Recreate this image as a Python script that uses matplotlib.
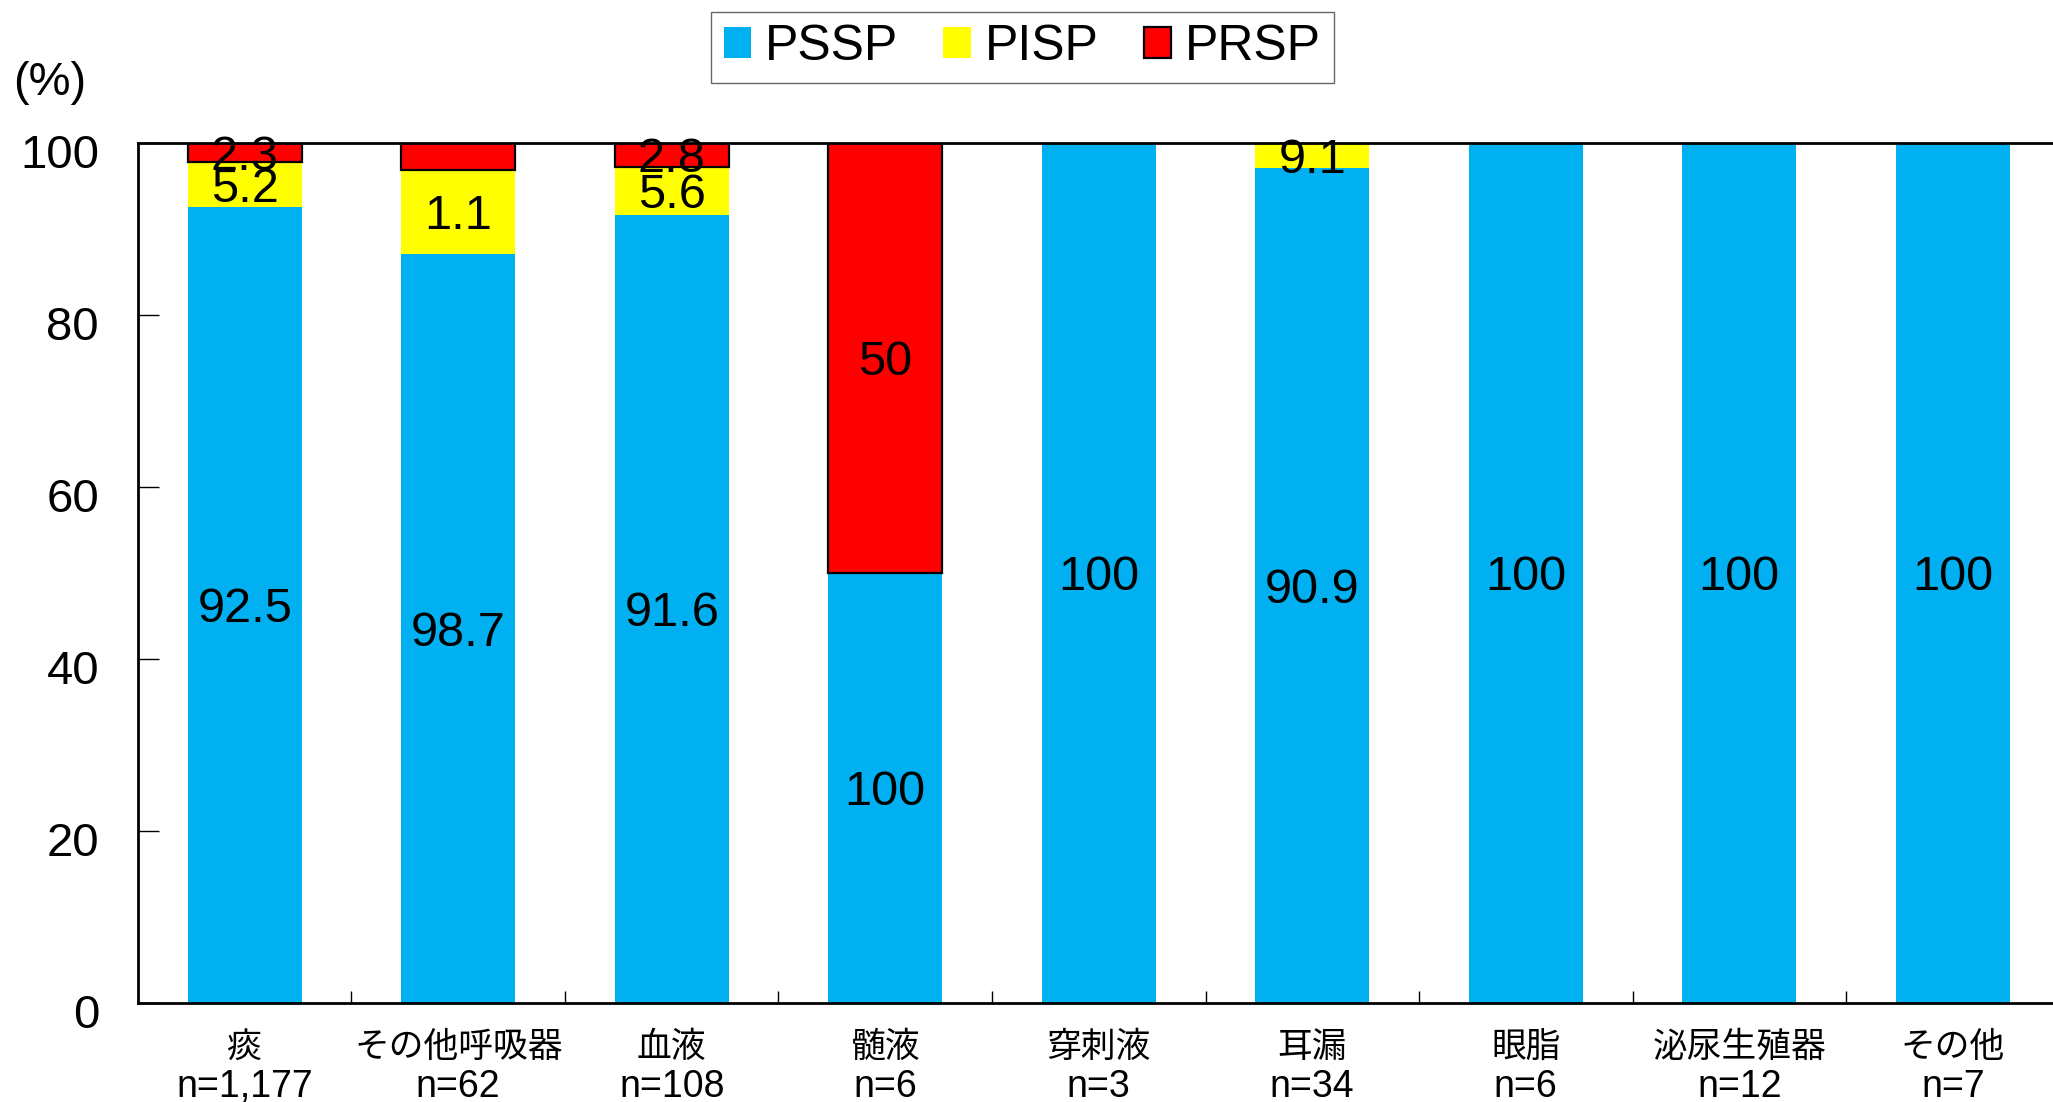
import numpy as np
import matplotlib.pyplot as plt
from matplotlib.transforms import ScaledTranslation

plt.rcParams['font.family'] = ['Liberation Sans', 'Noto Sans CJK JP', 'DejaVu Sans']

# categories (specimen) and sample counts
categories = ['痰', 'その他呼吸器', '血液', '髄液', '穿刺液', '耳漏', '眼脂', '泌尿生殖器', 'その他']
counts = ['n=1,177', 'n=62', 'n=108', 'n=6', 'n=3', 'n=34', 'n=6', 'n=12', 'n=7']

# bar heights (%) as drawn
pssp = [92.5, 87.1, 91.6, 50.0, 100.0, 97.1, 100.0, 100.0, 100.0]
pisp = [5.2, 9.7, 5.6, 0.0, 0.0, 2.9, 0.0, 0.0, 0.0]
prsp = [2.3, 3.2, 2.8, 50.0, 0.0, 0.0, 0.0, 0.0, 0.0]

# printed labels inside the segments (as shown on the chart)
pssp_text = ['92.5', '98.7', '91.6', '100', '100', '90.9', '100', '100', '100']
pisp_text = ['5.2', '1.1', '5.6', '', '', '9.1', '', '', '']
prsp_text = ['2.3', '', '2.8', '50', '', '', '', '', '']

c_pssp = '#00B0F0'
c_pisp = '#FFFF00'
c_prsp = '#FF0000'

fig = plt.figure(figsize=(20.53, 11.02), dpi=100)
ax = fig.add_axes([0.0672, 0.0901, 0.936, 0.7804])

x = np.arange(len(categories))
w = 0.534
pssp = np.array(pssp)
pisp = np.array(pisp)
prsp = np.array(prsp)

b1 = ax.bar(x, pssp, w, color=c_pssp, linewidth=0, label='PSSP')
b2 = ax.bar(x, pisp, w, bottom=pssp, color=c_pisp, linewidth=0, label='PISP')
b3 = ax.bar(x, prsp, w, bottom=pssp + pisp, color=c_prsp, edgecolor='black',
            linewidth=1.6, label='PRSP')

# segment labels
for i in range(len(categories)):
    segs = [(0, pssp[i], pssp_text[i]),
            (pssp[i], pisp[i], pisp_text[i]),
            (pssp[i] + pisp[i], prsp[i], prsp_text[i])]
    for base, h, t in segs:
        if t:
            ax.text(x[i], base + h / 2, t, ha='center', va='center_baseline',
                    fontsize=35, color='black')

ax.set_xlim(-0.5, len(categories) - 0.5)
ax.set_ylim(0, 100)
ax.set_yticks(np.arange(0, 101, 20))
ax.tick_params(axis='y', direction='in', length=15, width=1, labelsize=34, pad=28)
for lab in ax.get_yticklabels():
    lab.set_transform(lab.get_transform() + ScaledTranslation(0, -8 / 100, fig.dpi_scale_trans))

# ticks between bars, category names and counts drawn below
ax.set_xticks(x[:-1] + 0.5)
ax.set_xticklabels([])
ax.tick_params(axis='x', direction='in', length=9, width=1)
for i in range(len(categories)):
    ax.annotate(categories[i], (x[i], 0), xycoords=('data', 'axes fraction'),
                xytext=(0, -32), textcoords='offset points',
                ha='center', va='center', fontsize=25)
    ax.annotate(counts[i], (x[i], 0), xycoords=('data', 'axes fraction'),
                xytext=(0, -61), textcoords='offset points',
                ha='center', va='center', fontsize=27)

for s in ['left', 'bottom', 'top']:
    ax.spines[s].set_linewidth(2)
ax.spines['right'].set_visible(False)

fig.text(0.0063, 0.925, '(%)', fontsize=34, ha='left', va='center')

leg = fig.legend(handles=[b1, b2, b3], labels=['PSSP', 'PISP', 'PRSP'],
                 loc='center', bbox_to_anchor=(0.498, 0.957), ncol=3,
                 fontsize=36, frameon=True, fancybox=False, edgecolor='#404040',
                 handlelength=0.55, handleheight=0.58, handletextpad=0.28,
                 columnspacing=0.9, borderpad=0.25, borderaxespad=0)
leg.get_frame().set_linewidth(1)

fig.savefig('out.png', dpi=100)
